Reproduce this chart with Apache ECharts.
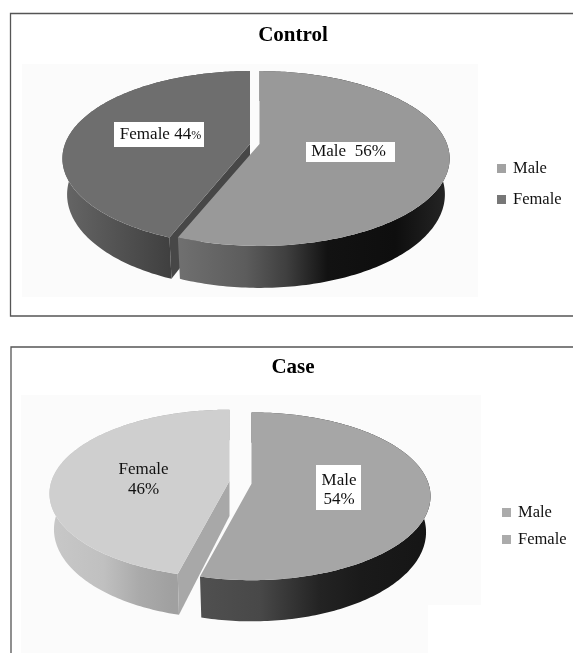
<!DOCTYPE html>
<html>
<head>
<meta charset="utf-8">
<style>html,body{margin:0;padding:0;background:#fff}#chart{width:573px;height:653px}</style>
<script src="https://cdn.jsdelivr.net/npm/echarts@6/dist/echarts.min.js"></script>
</head>
<body>
<div id="chart"></div>
<script>
// Share of male and female subjects in each study group (percent)
const categories = ['Male', 'Female'];
const controlValues = [56, 44];
const caseValues = [54, 46];

const FONT = '"Liberation Serif", "Times New Roman", serif';

// Hand-rolled perspective pie: k sets the foreshortening, depth the rim height.
const panels = [
  {
    title: 'Control', values: controlValues, titleX: 293, titleY: 25,
    frame: { x: 10.5, y: 13.5, width: 600, height: 302.5 },
    plate: [{ x: 22, y: 64, width: 456, height: 233 }],
    k: 0.166, ry: 85, depth: 35,
    slices: {
      Male: { ax: 259.5, ay: 144, rx: 187.5, top: '#999999',
        side: [[0, '#707070'], [0.25, '#5c5c5c'], [0.4, '#3f3f3f'], [0.55, '#121212'], [0.8, '#0e0e0e'], [1, '#262626']] },
      Female: { ax: 250, ay: 144, rx: 185, top: '#6e6e6e', face: '#474747',
        side: [[0, '#666666'], [0.57, '#404040'], [1, '#404040']] }
    },
    labels: {
      Male: { lines: v => [[{ t: 'Male  ' + v + '%', s: 17 }]], box: [306, 142, 89, 20], x: 348.5, baselines: [156] },
      Female: { lines: v => [[{ t: 'Female ' + v, s: 17 }, { t: '%', s: 12 }]], box: [114, 122, 90, 25], x: 160.5, baselines: [139] }
    },
    legend: { left: 497, top: 160, gap: 14, colors: { Male: '#a2a2a2', Female: '#777777' } }
  },
  {
    title: 'Case', values: caseValues, titleX: 293, titleY: 357,
    frame: { x: 11, y: 347, width: 600, height: 340 },
    plate: [{ x: 21, y: 395, width: 460, height: 258 }],
    plateCut: { x: 428, y: 605, width: 53, height: 48 },
    k: 0.15, ry: 82, depth: 35,
    slices: {
      Male: { ax: 251.5, ay: 483.7, rx: 177, top: '#a6a6a6',
        side: [[0, '#505050'], [0.26, '#484848'], [0.52, '#232323'], [0.7, '#1a1a1a'], [1, '#151515']] },
      Female: { ax: 229.5, ay: 481, rx: 178, top: '#cfcfcf', face: '#a8a8a8',
        side: [[0, '#c8c8c8'], [0.3, '#c0c0c0'], [0.5, '#aaaaaa'], [0.68, '#a0a0a0'], [1, '#a0a0a0']] }
    },
    labels: {
      Male: { lines: v => [[{ t: 'Male', s: 17 }], [{ t: v + '%', s: 17 }]], box: [316, 465, 45, 45], x: 339, baselines: [485, 504] },
      Female: { lines: v => [[{ t: 'Female', s: 17 }], [{ t: v + '%', s: 17 }]], x: 143.5, baselines: [474, 494] }
    },
    legend: { left: 502, top: 504, gap: 10, colors: { Male: '#ababab', Female: '#ababab' } }
  }
];

// Projects a point on the pie disc (angle clockwise from 12 o'clock, in radians).
function project(panel, slice, angle, lowered) {
  const u = Math.sin(angle);
  const v = -Math.cos(angle);
  const s = 1 / (1 - panel.k * v);
  const shrink = lowered ? 0.975 : 1;
  return [
    slice.ax + u * slice.rx * s * shrink,
    slice.ay + v * panel.ry * s + (lowered ? panel.depth * s : 0)
  ];
}

function arcPoints(panel, slice, from, to, lowered) {
  const pts = [];
  const steps = Math.ceil(Math.abs(to - from) / (Math.PI / 180));
  for (let i = 0; i <= steps; i++) {
    pts.push(project(panel, slice, from + (to - from) * i / steps, lowered));
  }
  return pts;
}

function polygon(points, fill) {
  return { type: 'polygon', shape: { points }, style: { fill } };
}

function labelElements(label, value) {
  const els = [];
  if (label.box) {
    const [x, y, width, height] = label.box;
    els.push({ type: 'rect', shape: { x, y, width, height }, style: { fill: '#ffffff' } });
  }
  label.lines(value).forEach((runs, i) => {
    const widths = runs.map(r => echarts.format.getTextRect
      ? echarts.format.getTextRect(r.t, r.s + 'px ' + FONT).width : 0);
    let x = label.x - widths.reduce((a, b) => a + b, 0) / 2;
    runs.forEach((r, j) => {
      els.push({
        type: 'text', x, y: label.baselines[i] + Math.round(r.s * 0.22),
        style: { text: r.t, fill: '#111111', font: r.s + 'px ' + FONT, align: 'left', verticalAlign: 'bottom' }
      });
      x += widths[j];
    });
  });
  return els;
}

function sliceSeries(panel, name) {
  const idx = categories.indexOf(name);
  const total = panel.values.reduce((a, b) => a + b, 0);
  const before = panel.values.slice(0, idx).reduce((a, b) => a + b, 0);
  const start = before / total * Math.PI * 2;
  const end = (before + panel.values[idx]) / total * Math.PI * 2;
  const slice = panel.slices[name];
  return {
    type: 'custom',
    name,
    coordinateSystem: 'none',
    silent: true,
    animation: false,
    itemStyle: { color: slice.top },
    data: [[panel.values[idx]]],
    renderItem() {
      const apex = [slice.ax, slice.ay];
      const apexLow = [slice.ax, slice.ay + panel.depth];
      const rimTop = arcPoints(panel, slice, start, end, false);
      const rimLow = arcPoints(panel, slice, start, end, true);
      const xs = rimTop.concat(rimLow).map(p => p[0]);
      const children = [];
      // Outer rim, shaded left to right
      children.push(polygon(rimTop.concat(rimLow.slice().reverse()),
        new echarts.graphic.LinearGradient(Math.min(...xs), 0, Math.max(...xs), 0,
          slice.side.map(([offset, color]) => ({ offset, color })), true)));
      // Exposed cut wall on the leading edge of the slice
      if (slice.face) {
        const a = project(panel, slice, start, false);
        const b = project(panel, slice, start, true);
        children.push(polygon([apex, a, b, apexLow], slice.face));
      }
      // Top surface
      children.push(polygon([apex].concat(rimTop), slice.top));
      children.push(...labelElements(panel.labels[name], panel.values[idx]));
      return { type: 'group', children };
    }
  };
}

// Frames and pale plot plates behind the pies
const graphicElements = [];
panels.forEach(p => {
  graphicElements.push({ type: 'rect', z: -3, shape: p.frame, style: { fill: '#ffffff', stroke: '#555555', lineWidth: 1.3 } });
  p.plate.forEach(r => graphicElements.push({ type: 'rect', z: -2, shape: r, style: { fill: '#fbfbfb' } }));
  if (p.plateCut) graphicElements.push({ type: 'rect', z: -1, shape: p.plateCut, style: { fill: '#ffffff' } });
});

const chart = echarts.init(document.getElementById('chart'), null, { renderer: 'canvas' });
chart.setOption({
  animation: false,
  backgroundColor: '#ffffff',
  graphic: { elements: graphicElements },
  title: panels.map(p => ({
    text: p.title, left: p.titleX, top: p.titleY, textAlign: 'center', padding: 0,
    textStyle: { fontFamily: FONT, fontSize: 21, fontWeight: 'bold', color: '#000000' }
  })),
  legend: panels.map(p => ({
    orient: 'vertical', left: p.legend.left, top: p.legend.top, padding: 0,
    itemWidth: 9, itemHeight: 9, itemGap: p.legend.gap, icon: 'rect', selectedMode: false,
    textStyle: { fontFamily: FONT, fontSize: 16.5, color: '#111111', padding: [0, 0, 0, 2] },
    data: categories.map(name => ({ name, itemStyle: { color: p.legend.colors[name] } }))
  })),
  series: panels.flatMap(p => [sliceSeries(p, 'Female'), sliceSeries(p, 'Male')])
});
</script>
</body>
</html>
